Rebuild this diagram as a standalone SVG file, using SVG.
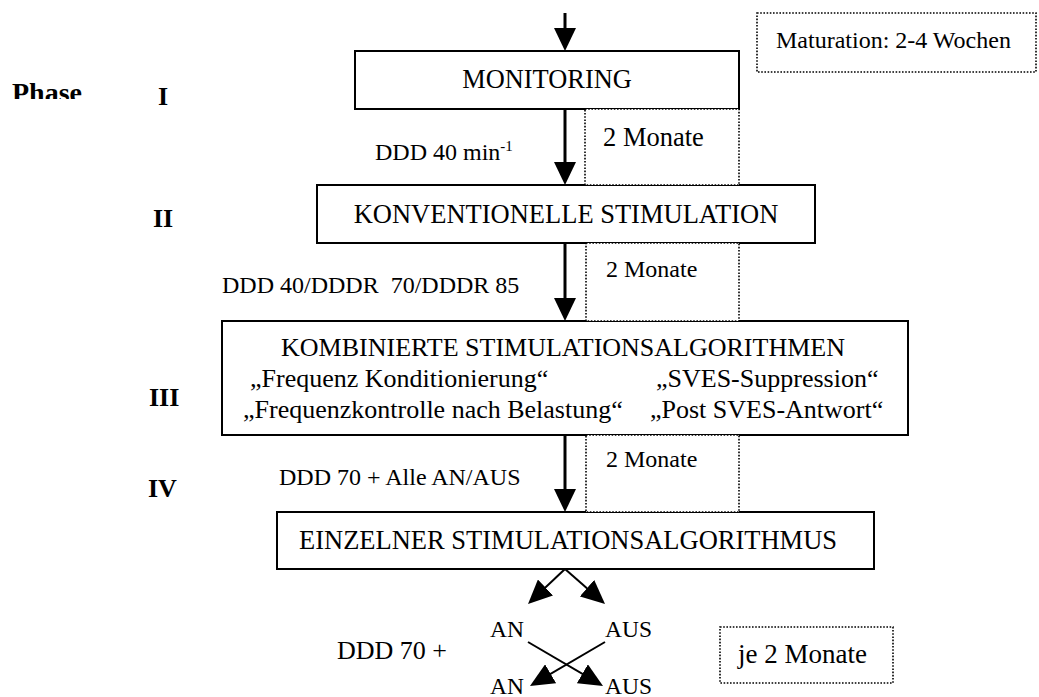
<svg xmlns="http://www.w3.org/2000/svg" width="1039" height="697" viewBox="0 0 1039 697">
<defs>
<style>
.box{fill:#fff;stroke:#000;stroke-width:2}
.dot{fill:#fff;stroke:#000;stroke-width:1.6;stroke-dasharray:1.6 1.6}
.t{font-family:"Liberation Serif","Times New Roman",serif;fill:#000}
.tb{font-family:"Liberation Serif","Times New Roman",serif;font-weight:bold;fill:#000}
.ln{stroke:#000;stroke-width:3;fill:none;marker-end:url(#ah)}
.ln2{stroke:#000;stroke-width:2;fill:none;marker-end:url(#ah2)}
</style>
<marker id="ah" viewBox="0 0 23 22" refX="13" refY="11" markerWidth="23" markerHeight="22" orient="auto" markerUnits="userSpaceOnUse"><path d="M0,0 L23,11 L0,22 z"/></marker>
<marker id="ah2" viewBox="0 0 24 22" refX="14" refY="11" markerWidth="24" markerHeight="22" orient="auto" markerUnits="userSpaceOnUse"><path d="M0,0 L24,11 L0,22 z"/></marker>
<clipPath id="phc"><rect x="0" y="60" width="120" height="39"/></clipPath>
</defs>
<rect width="1039" height="697" fill="#fff"/>

<g id="phases">
<text class="tb" x="12" y="102" font-size="28" clip-path="url(#phc)">Phase</text>
<text class="tb" x="158" y="105" font-size="26">I</text>
<text class="tb" x="153" y="227" font-size="26">II</text>
<text class="tb" x="149" y="406" font-size="26">III</text>
<text class="tb" x="148" y="497" font-size="26">IV</text>
</g>

<g id="connectors">
<line class="ln" x1="565" y1="13" x2="565" y2="41"/>
<line class="ln" x1="565" y1="109" x2="565" y2="175"/>
<line class="ln" x1="565" y1="243" x2="565" y2="311"/>
<line class="ln" x1="565" y1="435" x2="565" y2="502"/>
<line class="ln2" x1="565" y1="569" x2="535.3" y2="597.1"/>
<line class="ln2" x1="565" y1="569" x2="597.5" y2="597.4"/>
<line class="ln2" x1="528" y1="642" x2="594.4" y2="680.9"/>
<line class="ln2" x1="605" y1="642" x2="538.6" y2="680.9"/>
</g>

<g id="monitoring">
<rect class="box" x="355" y="51" width="384" height="58"/>
<text class="t" x="547" y="88" font-size="26.4" text-anchor="middle">MONITORING</text>
</g>

<g id="konventionelle">
<rect class="box" x="317" y="185" width="498" height="58"/>
<text class="t" x="566" y="223" font-size="26.5" text-anchor="middle">KONVENTIONELLE STIMULATION</text>
</g>

<g id="kombinierte">
<rect class="box" x="222" y="321" width="686" height="114"/>
<text class="t" x="563" y="356" font-size="26" text-anchor="middle">KOMBINIERTE STIMULATIONSALGORITHMEN</text>
<text class="t" x="250" y="387" font-size="26">„Frequenz Konditionierung“</text>
<text class="t" x="656" y="387" font-size="26">„SVES-Suppression“</text>
<text class="t" x="243" y="418" font-size="26">„Frequenzkontrolle nach Belastung“</text>
<text class="t" x="650" y="418" font-size="26">„Post SVES-Antwort“</text>
</g>

<g id="einzelner">
<rect class="box" x="277" y="512" width="597" height="57"/>
<text class="t" x="299" y="549" font-size="26.5">EINZELNER STIMULATIONSALGORITHMUS</text>
</g>

<g id="maturation">
<rect class="dot" x="757" y="13" width="279" height="59"/>
<text class="t" x="776" y="48" font-size="24">Maturation: 2-4 Wochen</text>
</g>

<g id="dauer1">
<rect class="dot" x="585" y="109" width="154" height="76"/>
<text class="t" x="603" y="146" font-size="26.5">2 Monate</text>
</g>
<g id="dauer2">
<rect class="dot" x="586" y="243" width="153" height="78"/>
<text class="t" x="606" y="277" font-size="24">2 Monate</text>
</g>
<g id="dauer3">
<rect class="dot" x="586" y="435" width="153" height="77"/>
<text class="t" x="606" y="467" font-size="24">2 Monate</text>
</g>

<g id="labels">
<text class="t" x="375" y="160" font-size="24">DDD 40 min<tspan font-size="15" dy="-9">-1</tspan></text>
<text class="t" x="222" y="293" font-size="24">DDD 40/DDDR&#160; 70/DDDR 85</text>
<text class="t" x="279" y="485" font-size="24">DDD 70 + Alle AN/AUS</text>
</g>

<g id="onoff">
<text class="t" x="490" y="637" font-size="23.5">AN</text>
<text class="t" x="605" y="637" font-size="23.5">AUS</text>
<text class="t" x="490" y="694" font-size="23.5">AN</text>
<text class="t" x="605" y="694" font-size="23.5">AUS</text>
<text class="t" x="337" y="659" font-size="26">DDD 70 +</text>
</g>

<g id="je2monate">
<rect class="dot" x="720" y="627" width="173" height="56"/>
<text class="t" x="738" y="663" font-size="27">je 2 Monate</text>
</g>
</svg>
